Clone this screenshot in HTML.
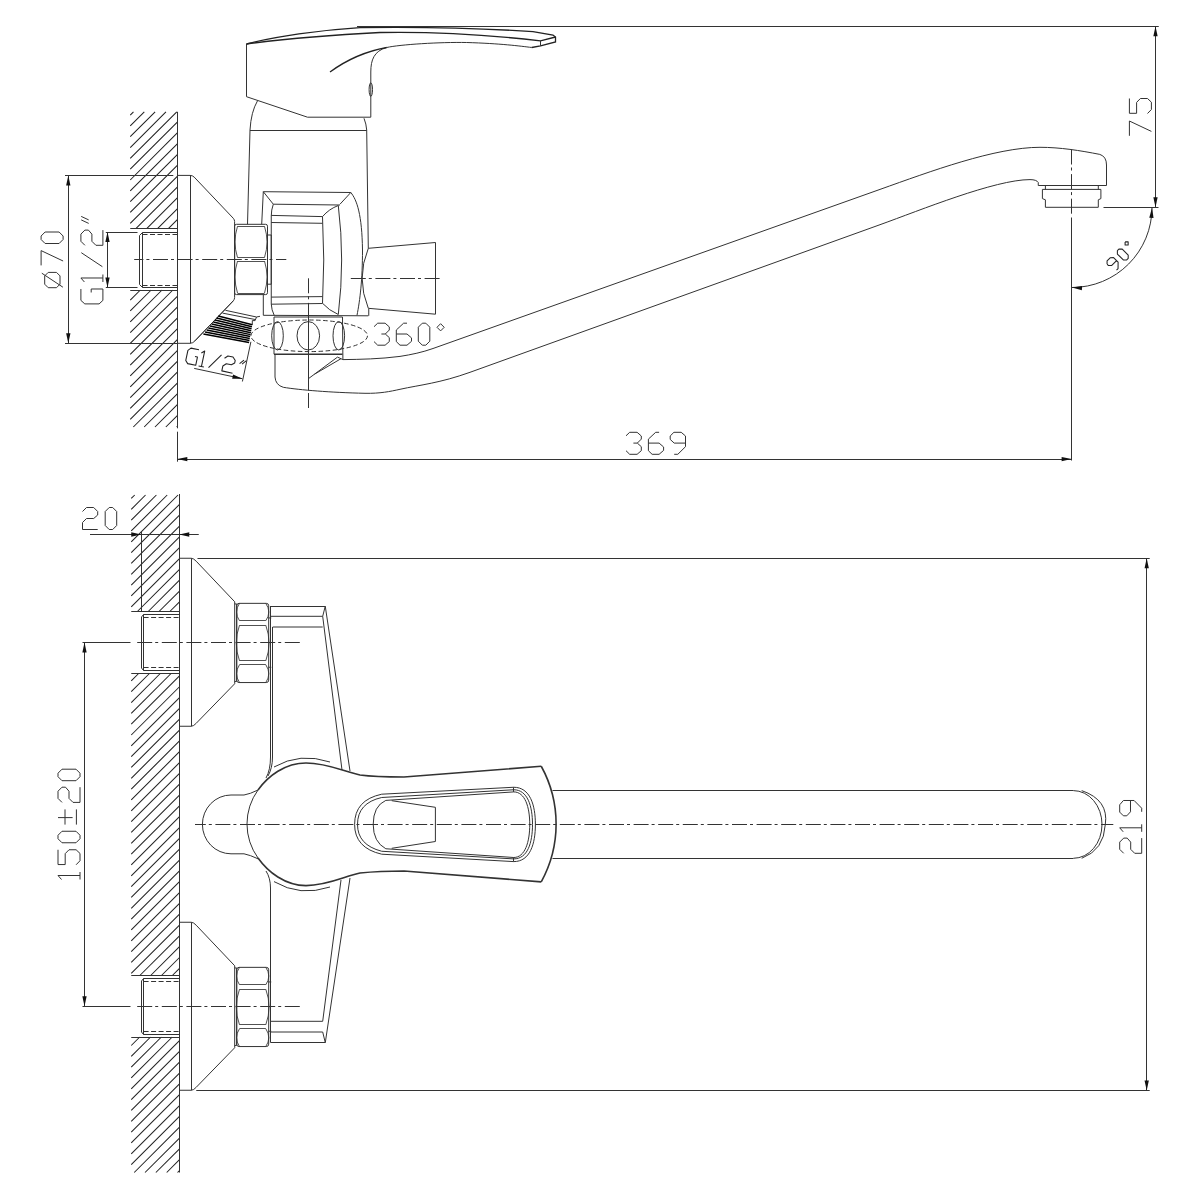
<!DOCTYPE html>
<html><head><meta charset="utf-8"><style>
html,body{margin:0;padding:0;background:#fff;}
svg{display:block;}
.s,.hc,.t,.c,.h,.e,.b,.tt{fill:none;stroke:#333;stroke-linecap:butt;stroke-linejoin:round;}
.s{stroke-width:1}
.b{stroke-width:1.6}
.hc{stroke-width:1.05;stroke:#222}
.ts{fill:none;stroke:#222;stroke-width:1.75;stroke-linejoin:round}
.t{stroke-width:1}
.n{fill:none;stroke:#333;stroke-width:0.85}
.tt{stroke-width:1.5;stroke:#000}
.hb{fill:none;stroke:#222;stroke-width:1.3}
.tg{fill:none;stroke:#222;stroke-width:1.5;stroke-linejoin:round}
.c{stroke-width:1;stroke-dasharray:15 3 3 3.6}
.h{stroke-width:1;stroke-dasharray:5 2.5}
.e{stroke-width:1;stroke-dasharray:4.5 2.5}
.a{fill:#111;stroke:none}
</style></head><body>
<svg width="1200" height="1200" viewBox="0 0 1200 1200">
<rect width="1200" height="1200" fill="#fff"/>
<path class="hc" d="M130.25 115.02L133.47 111.8M130.25 125.85L144.3 111.8M130.25 136.68L155.13 111.8M130.25 147.51L165.96 111.8M130.25 158.34L176.79 111.8M130.25 169.17L177.3 122.12M130.25 180L177.3 132.95M130.25 190.83L177.3 143.78M130.25 201.66L177.3 154.61M130.25 212.49L177.3 165.44M130.25 223.32L177.3 176.27M136.1 228.3L177.3 187.1M146.93 228.3L177.3 197.93M157.76 228.3L177.3 208.76M168.59 228.3L177.3 219.59"/>
<path class="hc" d="M130.25 300.13L140.38 290M130.25 310.96L151.21 290M130.25 321.79L162.04 290M130.25 332.62L172.87 290M130.25 343.45L177.3 296.4M130.25 354.28L177.3 307.23M130.25 365.11L177.3 318.06M130.25 375.94L177.3 328.89M130.25 386.77L177.3 339.72M130.25 397.6L177.3 350.55M130.25 408.43L177.3 361.38M130.25 419.26L177.3 372.21M133.34 427L177.3 383.04M144.17 427L177.3 393.87M155 427L177.3 404.7M165.83 427L177.3 415.53M176.66 427L177.3 426.36"/>
<path class="s" d="M130.25 228.5L177.3 228.5"/>
<path class="s" d="M130.25 290.5L177.3 290.5"/>
<path class="s" d="M177.5 111.8L177.5 428.3"/>
<path class="s" d="M177.5 431.7L177.5 461.7"/>
<path class="s" d="M105.8 232.5L137.5 232.5"/>
<path class="s" d="M105.8 287.5L137.5 287.5"/>
<path class="s" d="M177.3 232.5L142.5 232.5L139.5 235.5L139.5 284.5L142.5 287.5L177.3 287.5"/>
<path class="s" d="M142.5 232.5L142.5 287.5"/>
<path class="h" d="M142.5 234.5L177.3 234.5"/>
<path class="h" d="M142.5 285.5L177.3 285.5"/>
<path class="c" style="stroke-dashoffset:5.8" d="M134.2 259.5L286.3 259.5"/>
<path class="s" d="M65 175.5L173.3 175.5"/>
<path class="s" d="M65 343.5L177.3 343.5"/>
<path class="s" d="M68.5 175.4L68.5 343.3"/>
<path class="a" d="M68.3 175.4L70.45 185.4L66.15 185.4Z"/>
<path class="a" d="M68.3 343.3L66.15 333.3L70.45 333.3Z"/>
<path class="s" d="M107.5 232L107.5 287.5"/>
<path class="a" d="M107.5 232L109.65 242L105.35 242Z"/>
<path class="a" d="M107.5 287.5L105.35 277.5L109.65 277.5Z"/>
<path class="t" transform="translate(41.1 287.7) rotate(-90)" d="M3.5 3.6 L11.8 3.6 L15.3 7.1 L15.3 15.4 L11.8 18.9 L3.5 18.9 L0 15.4 L0 7.1 L3.5 3.6M0.5 21.8 L14.5 0.7M22.3 0 L37.1 0 L26.7 22M48.2 0 L51.7 0 L55.7 4 L55.7 18 L51.7 22 L48.2 22 L44.2 18 L44.2 4 L48.2 0"/>
<path class="t" transform="translate(80.9 303.9) rotate(-90)" d="M14.9 0 L3.5 0 L0 3.9 L0 18.2 L3.5 22 L14.9 22 L14.9 10.3 L11.4 10.3M21.9 3.5 L25.9 0 L25.9 22M21.9 22 L29.4 22M37.2 21.5 L51.2 0.4M58.6 4 L62.6 0 L69.8 0 L73.8 4 L73.8 7.5 L69.8 11 L62.6 11 L58.6 15 L58.6 22 L73.8 22M84 7.8 L87.5 0.3M80.5 7.8 L84 0.3"/>
<path class="s" d="M177.3 175.4L190 175.4Q192.5 175.4 194.2 177.1L233.3 218.3Q234.6 219.8 234.6 221.5L234.6 297.5Q234.6 299.3 233.3 300.8L195 340.8Q193 343.3 190 343.3L177.3 343.3"/>
<path class="s" d="M190.5 175.4L190.5 343.3"/>
<path class="s" d="M236.5 224.3L265.6 224.3Q267.5 224.3 267.5 226.2L267.5 292.7Q267.5 294.6 265.6 294.6L236.5 294.6Q234.6 294.6 234.6 292.7L234.6 226.2Q234.6 224.3 236.5 224.3Z"/>
<path class="n" d="M237.5 226.5L264.5 226.5"/>
<path class="n" d="M237.5 257.5L264.5 257.5"/>
<path class="n" d="M237.5 261.5L264.5 261.5"/>
<path class="n" d="M237.5 293.5L264.5 293.5"/>
<path class="n" d="M237.5 226.3Q232.5 242 237.5 257.5M264.5 226.3Q269.5 242 264.5 257.5M237.5 261Q232.5 277 237.5 293M264.5 261Q269.5 277 264.5 293"/>
<path class="s" d="M267.5 235L271.25 235L271.25 284.2L267.5 284.2"/>
<path class="s" d="M246.5 44L246.5 96.7L307.5 117.2L370.8 117.2L370.8 72C370.8 60 374 51 386.7 47.5C400 44.5 440 42 466.7 42.5C500 43.5 520 46 531.7 47.5"/>
<path class="hb" d="M246.5 44C275 36.5 320 30 360 27.6C420 26.8 480 28 533 31.7L553 35L555.5 37L555.5 42L540.5 45.8L531.7 47.5"/>
<path class="hb" d="M246.5 44C280 39.5 330 35 380 32.5C430 31.5 480 34 540.5 40.8L555.5 37"/>
<path class="s" d="M540.5 40.8L540.5 45.8"/>
<path class="hb" d="M330 72C345 61 362 52 386.7 47.5"/>
<ellipse class="s" cx="370.8" cy="89.6" rx="1.7" ry="6.8"/>
<path class="s" d="M257.5 100.8Q251 112 250 130M364 118.3Q366.3 124 366.7 130"/>
<path class="s" d="M250 130.5L366.7 130.5"/>
<path class="s" d="M250 130L247.5 224.3"/>
<path class="s" d="M366.7 130L368.3 248.3"/>
<path class="s" d="M263.3 191.7L350.8 192.5C357 200 362 215 362.5 250C362.5 280 360 300 357 315.3"/>
<path class="s" d="M263.3 191.7L261.7 224.3"/>
<path class="s" d="M263.3 294.6L263.3 315.3"/>
<path class="s" d="M263.3 315.3L368.3 315.8"/>
<path class="s" d="M263.3 191.7L273.3 204.2"/>
<path class="s" d="M350.8 192.5L340 204.2"/>
<path class="s" d="M273.3 204.2L340 205"/>
<path class="s" d="M271.25 216L271.25 304"/>
<path class="s" d="M273.3 204.2Q271.25 210 271.25 216M271.25 304Q271.5 310 274.2 315.3"/>
<path class="s" d="M271.25 215.4L322.5 216.6"/>
<path class="s" d="M271.25 222.5L322.5 223.3"/>
<path class="s" d="M271.25 297.1L322.5 296.6"/>
<path class="s" d="M271.25 304.2L322.5 303.5"/>
<path class="s" d="M322.5 216.6Q329 209 338.3 205.5M322.5 303.3Q329 310.5 338.3 314.5"/>
<path class="s" d="M322.5 216.6Q325 260 322.5 303.3"/>
<path class="s" d="M338.3 205.5Q345 260 338.3 314.5"/>
<path class="s" d="M368.3 248.3L435.5 242.5L435.5 314.2L368.3 308.3Q356 278.3 368.3 248.3"/>
<path class="s" d="M368.75 308.75L368.75 315.8"/>
<path class="c" style="stroke-dashoffset:-0.8" d="M350 278.5L440.5 278.5"/>
<path class="s" d="M274 317L342.5 317M274 317L274 354.2M342.5 317L342.9 359.6"/>
<path class="b" d="M274 354.2L342.5 354.2"/>
<ellipse class="s" cx="277.5" cy="335.8" rx="5.8" ry="14.2"/>
<ellipse class="s" cx="308.3" cy="335.8" rx="11.3" ry="14.2"/>
<ellipse class="s" cx="338.8" cy="335.8" rx="5.8" ry="14.2"/>
<ellipse class="e" cx="309.2" cy="335.8" rx="58.3" ry="15.8"/>
<path class="c" d="M308.5 278.3L308.5 316"/>
<path class="s" d="M308.5 316L308.5 390.4"/>
<path class="c" d="M308.5 393L308.5 408.3"/>
<path class="s" d="M275 354.2L275 377Q275.5 385 283.3 387.3C300 390 330 392.5 365 393.3C380 393.6 390 391.5 400 389.3C420 384.9 440 383.1 470 372.3L880 224.7C920 210.3 995 179.6 1030 179.6Q1036.5 179.6 1038.25 182.5L1038.25 185.5"/>
<path class="s" d="M342.9 359.6C360 359.4 380 359 400 356.4C412 354.5 422 352.4 433 348.5L880 189.4C930 171.6 995 147.3 1040 147.3C1060 147.3 1080 150.5 1099.8 154.4Q1106.5 156.5 1106.5 165L1106.5 185.5"/>
<path class="s" d="M1038.25 185.5L1106.5 185.5"/>
<path class="s" d="M308.3 378.75L337.5 357.1L342.9 359.6"/>
<path class="s" d="M314.5 374.2L341 358.7"/>
<path class="s" d="M1045.4 185.5L1045.4 189.4M1098.3 185.5L1098.3 189.4"/>
<path class="s" d="M1042.4 189.4L1100.9 189.4L1100.9 198.6L1098.3 199.8L1098.3 207.3L1045.4 207.3L1045.4 199.8L1042.4 198.6Z"/>
<path class="c" d="M1071.5 149.5L1071.5 215"/>
<path class="s" d="M1071.5 217.5L1071.5 460.5"/>
<path class="s" d="M357 26.5L1158.75 26.5"/>
<path class="s" d="M1103.5 207.5L1158.5 207.5"/>
<path class="s" d="M1155.5 26.3L1155.5 207.3"/>
<path class="a" d="M1155.5 26.3L1157.65 36.3L1153.35 36.3Z"/>
<path class="a" d="M1155.5 207.3L1153.35 197.3L1157.65 197.3Z"/>
<path class="t" transform="translate(1129.4 135.8) rotate(-90)" d="M0 0 L14.8 0 L4.4 22M37.3 0 L22.5 0 L22.5 7.2 L33.4 7.2 L37.3 11 L37.3 18.1 L33.6 22 L26.3 22 L22.3 18.1"/>
<path class="s" d="M1152 207.5A80 80 0 0 1 1072 287.5"/>
<path class="a" d="M1152 207.8L1153.55 217.91L1149.25 217.65Z"/>
<path class="a" d="M1072 287.5L1082.11 285.95L1081.85 290.25Z"/>
<path class="ts" transform="translate(1105.5 262.5) rotate(-45) scale(0.6)" d="M0 3.7 L3.7 0 L11 0 L15.3 3.7 L15.3 14.4 L7.6 22 L4 22M0 3.7 L0 7.1 L4 10.8 L15.3 10.8M28 0 L31.5 0 L35.5 4 L35.5 18 L31.5 22 L28 22 L24 18 L24 4 L28 0M47.4 -1.2 L51 2.4 L47.4 6 L43.8 2.4 L47.4 -1.2"/>
<path class="s" d="M177.3 459.5L1071.6 459.5"/>
<path class="a" d="M177.3 459.1L187.3 456.95L187.3 461.25Z"/>
<path class="a" d="M1071.6 459.1L1061.6 461.25L1061.6 456.95Z"/>
<path class="t" transform="translate(626 432.3)" d="M0 3.5 L3.7 0 L11.1 0 L15.3 3.7 L15.3 6.8 L11.3 10.8 L15.3 14.4 L15.3 18.4 L11.1 22 L3.7 22 L0 18.4M7.4 10.8 L11.3 10.8M33.1 0 L29.7 0 L22.4 6.8 L22.4 18.4 L26.1 22 L33.1 22 L37.6 18.1 L37.6 14.7 L33.1 10.8 L22.4 10.8M44.2 3.7 L47.9 0 L55.2 0 L59.5 3.7 L59.5 14.4 L51.8 22 L48.2 22M44.2 3.7 L44.2 7.1 L48.2 10.8 L59.5 10.8"/>
<path class="t" transform="translate(374 323.2)" d="M0 3.5 L3.7 0 L11.1 0 L15.3 3.7 L15.3 6.8 L11.3 10.8 L15.3 14.4 L15.3 18.4 L11.1 22 L3.7 22 L0 18.4M7.4 10.8 L11.3 10.8M33 0 L29.6 0 L22.3 6.8 L22.3 18.4 L26 22 L33 22 L37.5 18.1 L37.5 14.7 L33 10.8 L22.3 10.8M48.3 0 L51.8 0 L55.8 4 L55.8 18 L51.8 22 L48.3 22 L44.3 18 L44.3 4 L48.3 0M66.6 0.5 L70.2 4.1 L66.6 7.7 L63 4.1 L66.6 0.5"/>
<path class="s" d="M195 340.8L233.3 300.8"/>
<path class="s" d="M225.4 310.3L256.5 317"/>
<path class="s" d="M222.5 313.1L255.1 319.5"/>
<path class="s" d="M256.5 317L255.1 320.6L252.3 320.6L252.3 324.8M256.5 317L260 316.3"/>
<path class="tt" d="M218.3 316L252.3 324.8"/>
<path class="tt" d="M216.64 318L251.94 326.77"/>
<path class="tt" d="M214.99 320L251.59 328.73"/>
<path class="tt" d="M213.33 322L251.23 330.7"/>
<path class="tt" d="M211.68 324L250.88 332.67"/>
<path class="tt" d="M210.02 326L250.52 334.63"/>
<path class="tt" d="M208.37 328L250.17 336.6"/>
<path class="tt" d="M206.71 330L249.81 338.57"/>
<path class="tt" d="M205.06 332L249.46 340.53"/>
<path class="tt" d="M203.4 334L249.1 342.5"/>
<path class="tg" transform="translate(188.5 347.6) rotate(12) scale(0.72)" d="M14.9 0 L3.5 0 L0 3.9 L0 18.2 L3.5 22 L14.9 22 L14.9 10.3 L11.4 10.3M19 3.5 L23 0 L23 22M19 22 L26.5 22M33 21.5 L47 0.4M52 4 L56 0 L63.2 0 L67.2 4 L67.2 7.5 L63.2 11 L56 11 L52 15 L52 22 L67.2 22M74 7 L79 1M77.5 7 L82.5 1"/>
<path class="s" d="M194.2 368.4L242.4 378.7"/>
<path class="a" d="M242.4 378.7L232.17 378.72L233.07 374.52Z"/>
<path class="s" d="M242.4 381.5L250.9 341.8"/>
<path class="hc" d="M131.25 498.47L134.72 495M131.25 509.3L145.55 495M131.25 520.13L156.38 495M131.25 530.96L167.21 495M131.25 541.79L178.04 495M131.25 552.62L179.25 504.62M131.25 563.45L179.25 515.45M131.25 574.28L179.25 526.28M131.25 585.11L179.25 537.11M131.25 595.94L179.25 547.94M131.25 606.77L179.25 558.77M137.6 611.25L179.25 569.6M148.43 611.25L179.25 580.43M159.26 611.25L179.25 591.26M170.09 611.25L179.25 602.09"/>
<path class="hc" d="M131.25 680.85L138.6 673.5M131.25 691.68L149.43 673.5M131.25 702.51L160.26 673.5M131.25 713.34L171.09 673.5M131.25 724.17L179.25 676.17M131.25 735L179.25 687M131.25 745.83L179.25 697.83M131.25 756.66L179.25 708.66M131.25 767.49L179.25 719.49M131.25 778.32L179.25 730.32M131.25 789.15L179.25 741.15M131.25 799.98L179.25 751.98M131.25 810.81L179.25 762.81M131.25 821.64L179.25 773.64M131.25 832.47L179.25 784.47M131.25 843.3L179.25 795.3M131.25 854.13L179.25 806.13M131.25 864.96L179.25 816.96M131.25 875.79L179.25 827.79M131.25 886.62L179.25 838.62M131.25 897.45L179.25 849.45M131.25 908.28L179.25 860.28M131.25 919.11L179.25 871.11M131.25 929.94L179.25 881.94M131.25 940.77L179.25 892.77M131.25 951.6L179.25 903.6M131.25 962.43L179.25 914.43M131.25 973.26L179.25 925.26M139.84 975.5L179.25 936.09M150.67 975.5L179.25 946.92M161.5 975.5L179.25 957.75M172.33 975.5L179.25 968.58"/>
<path class="hc" d="M131.25 1045.5L139.75 1037M131.25 1056.33L150.58 1037M131.25 1067.16L161.41 1037M131.25 1077.99L172.24 1037M131.25 1088.82L179.25 1040.82M131.25 1099.65L179.25 1051.65M131.25 1110.48L179.25 1062.48M131.25 1121.31L179.25 1073.31M131.25 1132.14L179.25 1084.14M131.25 1142.97L179.25 1094.97M131.25 1153.8L179.25 1105.8M131.25 1164.63L179.25 1116.63M134.21 1172.5L179.25 1127.46M145.04 1172.5L179.25 1138.29M155.87 1172.5L179.25 1149.12M166.7 1172.5L179.25 1159.95M177.53 1172.5L179.25 1170.78"/>
<path class="s" d="M131.25 611.5L179.25 611.5"/>
<path class="s" d="M131.25 673.5L179.25 673.5"/>
<path class="s" d="M131.25 975.5L179.25 975.5"/>
<path class="s" d="M131.25 1037.5L179.25 1037.5"/>
<path class="s" d="M179.5 494L179.5 1172.5"/>
<path class="s" d="M90 534.5L198.75 534.5"/>
<path class="a" d="M141.25 534.5L131.25 536.65L131.25 532.35Z"/>
<path class="a" d="M179.25 534.5L189.25 532.35L189.25 536.65Z"/>
<path class="s" d="M141.5 531.5L141.5 611.25"/>
<path class="t" transform="translate(82.5 507.5)" d="M0 4 L4 0 L11.2 0 L15.2 4 L15.2 7.5 L11.2 11 L4 11 L0 15 L0 22 L15.2 22M26.7 0 L30.2 0 L34.2 4 L34.2 18 L30.2 22 L26.7 22 L22.7 18 L22.7 4 L26.7 0"/>
<path class="s" d="M179.25 558.25 L191.25 558.25 Q193.5 558.25 196.25 561.25 L234.7 601.75 L234.7 683.75 L196.25 723.25 Q193.5 726.25 191.25 726.25 L179.25 726.25"/>
<path class="s" d="M191.5 558.25L191.5 726.25"/>
<path class="s" d="M179.25 614.5 L143.5 614.5 L141.5 617 L141.5 668 L143.5 670.5 L179.25 670.5"/>
<path class="s" d="M143.5 614.5L143.5 670.5"/>
<path class="h" d="M143.6 617.5L179.25 617.5"/>
<path class="h" d="M143.6 667.5L179.25 667.5"/>
<path class="s" d="M234.7 603.95 L236.7 603.95 L236.7 681.45 L234.7 681.45"/>
<path class="s" d="M239 603.35 L266.3 603.35 Q268.7 603.35 268.7 605.75 L268.7 680.15 Q268.7 682.55 266.3 682.55 L239 682.55 Q236.7 682.55 236.7 680.15 L236.7 605.75 Q236.7 603.35 239 603.35 Z"/>
<path class="n" d="M239.5 620.5L265.8 620.5"/>
<path class="n" d="M239.5 625.5L265.8 625.5"/>
<path class="n" d="M239.5 660.5L265.8 660.5"/>
<path class="n" d="M239.5 664.5L265.8 664.5"/>
<path class="n" d="M239.5 603.35 Q233.5 612.05 239.5 620.75 M265.8 603.35 Q271.8 612.05 265.8 620.75"/>
<path class="n" d="M239.5 625.25 Q233 643 239.5 660.75 M265.8 625.25 Q272.3 643 265.8 660.75"/>
<path class="n" d="M239.5 664.75 Q233.5 673.65 239.5 682.55 M265.8 664.75 Q271.8 673.65 265.8 682.55"/>
<path class="s" d="M268.7 617.95 L271.25 617.95 M268.7 667.25 L271.25 667.25"/>
<path class="s" d="M179.25 922.25 L191.25 922.25 Q193.5 922.25 196.25 925.25 L234.7 965.75 L234.7 1047.75 L196.25 1087.25 Q193.5 1090.25 191.25 1090.25 L179.25 1090.25"/>
<path class="s" d="M191.5 922.25L191.5 1090.25"/>
<path class="s" d="M179.25 978.5 L143.5 978.5 L141.5 981 L141.5 1032 L143.5 1034.5 L179.25 1034.5"/>
<path class="s" d="M143.5 978.5L143.5 1034.5"/>
<path class="h" d="M143.6 981.5L179.25 981.5"/>
<path class="h" d="M143.6 1031.5L179.25 1031.5"/>
<path class="s" d="M234.7 967.95 L236.7 967.95 L236.7 1045.45 L234.7 1045.45"/>
<path class="s" d="M239 967.35 L266.3 967.35 Q268.7 967.35 268.7 969.75 L268.7 1044.15 Q268.7 1046.55 266.3 1046.55 L239 1046.55 Q236.7 1046.55 236.7 1044.15 L236.7 969.75 Q236.7 967.35 239 967.35 Z"/>
<path class="n" d="M239.5 984.5L265.8 984.5"/>
<path class="n" d="M239.5 989.5L265.8 989.5"/>
<path class="n" d="M239.5 1024.5L265.8 1024.5"/>
<path class="n" d="M239.5 1028.5L265.8 1028.5"/>
<path class="n" d="M239.5 967.35 Q233.5 976.05 239.5 984.75 M265.8 967.35 Q271.8 976.05 265.8 984.75"/>
<path class="n" d="M239.5 989.25 Q233 1007 239.5 1024.75 M265.8 989.25 Q272.3 1007 265.8 1024.75"/>
<path class="n" d="M239.5 1028.75 Q233.5 1037.65 239.5 1046.55 M265.8 1028.75 Q271.8 1037.65 265.8 1046.55"/>
<path class="s" d="M268.7 981.95 L271.25 981.95 M268.7 1031.25 L271.25 1031.25"/>
<path class="s" d="M197.5 558.5L1149.7 558.5"/>
<path class="s" d="M196.25 1090.5L1149.7 1090.5"/>
<path class="s" d="M82.5 642.5L130.5 642.5"/>
<path class="c" style="stroke-dashoffset:-2.7" d="M134.5 642.5L302 642.5"/>
<path class="s" d="M82.5 1006.5L130.5 1006.5"/>
<path class="c" style="stroke-dashoffset:-2.7" d="M134.5 1006.5L302 1006.5"/>
<path class="s" d="M84.5 642.5L84.5 1006.25"/>
<path class="a" d="M84.5 642.5L86.65 652.5L82.35 652.5Z"/>
<path class="a" d="M84.5 1006.25L82.35 996.25L86.65 996.25Z"/>
<path class="t" transform="translate(58 879.5) rotate(-90)" d="M0 3.5 L4 0 L4 22M0 22 L7.5 22M29.75 0 L14.95 0 L14.95 7.2 L25.85 7.2 L29.75 11 L29.75 18.1 L26.05 22 L18.75 22 L14.75 18.1M40.75 0 L44.25 0 L48.25 4 L48.25 18 L44.25 22 L40.75 22 L36.75 18 L36.75 4 L40.75 0M61.9 0 L61.9 14.6M54.9 7 L70.1 7M54.9 18.4 L70.1 18.4M77.1 4 L81.1 0 L88.3 0 L92.3 4 L92.3 7.5 L88.3 11 L81.1 11 L77.1 15 L77.1 22 L92.3 22M102.8 0 L106.3 0 L110.3 4 L110.3 18 L106.3 22 L102.8 22 L98.8 18 L98.8 4 L102.8 0"/>
<path class="s" d="M270.5 606.5L325.3 606.5L350 771"/>
<path class="s" d="M272.7 627L322.7 627M271 616.3L322.7 616.3"/>
<path class="s" d="M322.7 616.3L342 770"/>
<path class="s" d="M325.3 606L322.7 616.3"/>
<path class="s" d="M270.5 606L270.5 757Q270.5 770 266 778"/>
<path class="s" d="M272.5 627L272.5 757Q272.5 768 268 776"/>
<path class="s" d="M266 871Q270.5 878 270.5 888L270.5 1042.5L325.3 1042.5L350 878"/>
<path class="s" d="M271 1021.3L322.7 1021.3M271 1032L322.7 1032"/>
<path class="s" d="M322.7 1021.3L341 880"/>
<path class="s" d="M325.3 1042.7L322.7 1032"/>
<path class="s" d="M244 795L231 795A28.6 29.4 0 0 0 231 853.8L244 853.8"/>
<path class="s" d="M244 795Q250 794 258 790M244 853.8Q250 855 258 858.8"/>
<path class="s" d="M258 790A58 58 0 0 0 258 858"/>
<path class="b" d="M258 790C268 776 285 763 306 763C328 763 345 772 360 775C375 777 390 777 404 777L541.25 766.25"/>
<path class="b" d="M258 858C268 872 285 885.6 306 885.6C328 885.6 345 876 360 873C375 871.5 390 871 404 871L541.25 881.9"/>
<path class="b" d="M541.25 766.25A120 120 0 0 1 541.25 881.9"/>
<path class="s" d="M274 767Q300 752 330 762"/>
<path class="s" d="M274 881.6Q300 897 330 887"/>
<path class="s" d="M552.5 790.5L1073.3 790.5"/>
<path class="s" d="M552.5 858.5L1073.3 858.5"/>
<path class="s" d="M1073.3 790.6A28.7 33.85 0 0 1 1073.3 858.3"/>
<path class="s" d="M1081.7 790.6Q1109 800 1105.3 824.5Q1104 850 1081.7 858.3"/>
<path class="c" style="stroke-dashoffset:4.2" d="M195 824.5L1113.3 824.5"/>
<path class="s" d="M381.7 794.2L513.75 787.25C530 787.25 535.4 805 535.4 824.4C535.4 844 530 861.6 513.75 861.6L381.7 854.2Q354.6 848 354.6 824.4Q354.6 800 381.7 794.2Z"/>
<path class="s" d="M381.7 797.5L513.75 789.75C527.5 789.75 532.5 806 532.5 824.4C532.5 843 527.5 858.9 513.75 858.9L381.7 851.25Q357.5 845 357.5 824.4Q357.5 803 381.7 797.5Z"/>
<path class="s" d="M385.8 800.4L513.75 791.9C525 791.9 529.75 807 529.75 824.4C529.75 842 525 857.5 513.75 857.5L385.8 848.75Q373.2 842 373.2 824.4Q373.2 806 385.8 800.4"/>
<path class="s" d="M391.7 800.7L435.4 807.3L435.4 841.5L391.7 848.3"/>
<path class="s" d="M513.5 787.25L513.5 791.9"/>
<path class="s" d="M513.5 857.5L513.5 861.6"/>
<path class="s" d="M1146.5 558.25L1146.5 1090.4"/>
<path class="a" d="M1146.7 558.25L1148.85 568.25L1144.55 568.25Z"/>
<path class="a" d="M1146.7 1090.4L1144.55 1080.4L1148.85 1080.4Z"/>
<path class="t" transform="translate(1119.7 853.3) rotate(-90)" d="M0 4 L4 0 L11.2 0 L15.2 4 L15.2 7.5 L11.2 11 L4 11 L0 15 L0 22 L15.2 22M21.5 3.5 L25.5 0 L25.5 22M21.5 22 L29 22M37.5 3.7 L41.2 0 L48.5 0 L52.8 3.7 L52.8 14.4 L45.1 22 L41.5 22M37.5 3.7 L37.5 7.1 L41.5 10.8 L52.8 10.8"/>
</svg></body></html>
